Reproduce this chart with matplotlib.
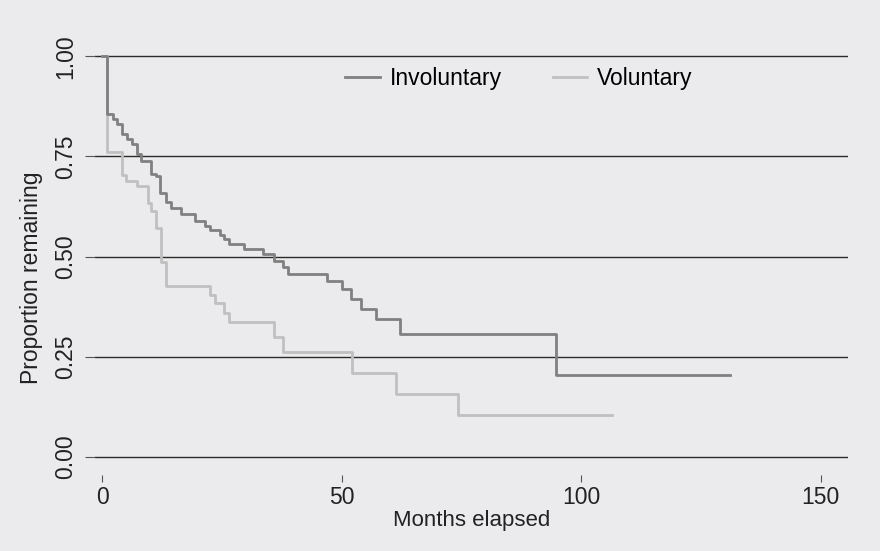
import matplotlib.pyplot as plt

# months at which each curve steps down, and the proportion remaining after the step
inv_times = [0, 1.1, 2.2, 3.2, 4.2, 5.2, 6.3, 7.2, 8.2, 10.3, 11.2, 12.2, 13.4, 14.4,
             16.4, 19.5, 21.5, 22.6, 24.6, 25.5, 26.6, 29.7, 33.7, 35.8, 37.7, 38.9,
             46.9, 50.1, 52.0, 54.1, 57.2, 62.3, 94.8, 131.0]
inv_surv = [1.0, 0.855, 0.844, 0.83, 0.807, 0.794, 0.782, 0.755, 0.738, 0.707, 0.70,
            0.659, 0.637, 0.622, 0.606, 0.588, 0.576, 0.566, 0.555, 0.544, 0.532,
            0.52, 0.507, 0.49, 0.474, 0.457, 0.44, 0.419, 0.394, 0.369, 0.344,
            0.306, 0.204, 0.204]

vol_times = [0, 1.1, 4.2, 5.1, 7.3, 9.5, 10.3, 11.3, 12.3, 13.4, 22.5, 23.5, 25.5,
             26.6, 35.8, 37.7, 52.1, 61.3, 74.4, 106.4]
vol_surv = [1.0, 0.761, 0.703, 0.688, 0.675, 0.634, 0.613, 0.572, 0.487, 0.426,
            0.405, 0.384, 0.359, 0.337, 0.299, 0.2625, 0.209, 0.157, 0.105, 0.105]

yticks = [0, 0.25, 0.5, 0.75, 1.0]
ylabels = ['0.00', '0.25', '0.50', '0.75', '1.00']
xticks = [0, 50, 100, 150]

bg = '#ebebed'
plt.rcParams['font.family'] = ['Liberation Sans', 'DejaVu Sans']

fig = plt.figure(figsize=(8.8, 5.51), dpi=100, facecolor=bg)
ax = fig.add_axes([0.108, 0.138, 0.856, 0.789], facecolor=bg)

for y in yticks:
    ax.axhline(y, color='#2a2a2a', lw=1.0, zorder=1)

ax.step(inv_times, inv_surv, where='post', color='#808080', lw=2, label='Involuntary', zorder=3)
ax.step(vol_times, vol_surv, where='post', color='#c0c0c0', lw=2, label='Voluntary', zorder=2)

ax.set_xlim(-1.46, 155.8)
ax.set_ylim(-0.045, 1.04)
ax.set_xticks(xticks)
ax.set_yticks(yticks)
ax.set_yticklabels(ylabels, rotation=90, va='center')
for s in ax.spines.values():
    s.set_visible(False)
ax.tick_params(axis='y', length=7, color='#555555', labelsize=16.5, pad=6, labelcolor='#222222')
ax.tick_params(axis='x', length=5, color='#555555', labelsize=16.5, pad=3, labelcolor='#222222')

ax.set_xlabel('Months elapsed', fontsize=16, color='#222222', labelpad=1)
ax.set_ylabel('Proportion remaining', fontsize=16.5, color='#222222', labelpad=8)
ax.yaxis.label.set_y(0.453)

ax.legend(loc='center', bbox_to_anchor=(0.563, 0.913), ncol=2, frameon=False,
          fontsize=16.5, handlelength=1.5, columnspacing=2.2, handletextpad=0.45)

fig.savefig('out.png', dpi=100, facecolor=bg)
